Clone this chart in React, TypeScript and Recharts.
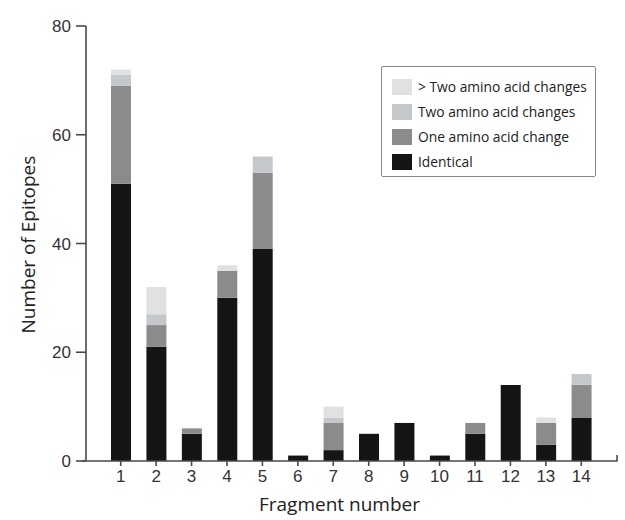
import React from 'react'
import { BarChart, Bar, XAxis, YAxis, ReferenceLine } from 'recharts'

const fragments = ['1', '2', '3', '4', '5', '6', '7', '8', '9', '10', '11', '12', '13', '14']
const identical = [51, 21, 5, 30, 39, 1, 2, 5, 7, 1, 5, 14, 3, 8]
const oneChange = [18, 4, 1, 5, 14, 0, 5, 0, 0, 0, 2, 0, 4, 6]
const twoChanges = [2, 2, 0, 0, 3, 0, 1, 0, 0, 0, 0, 0, 0, 2]
const moreChanges = [1, 5, 0, 1, 0, 0, 2, 0, 0, 0, 0, 0, 1, 0]
const majorTicks = [0, 20, 40, 60, 80]
const minorTicks = [0, 4, 8, 12, 16, 20, 24, 28, 32, 36, 40, 44, 48, 52, 56, 60, 64, 68, 72, 76, 80]

const SERIES = [
  { key: 'identical', name: 'Identical', color: '#151515' },
  { key: 'one', name: 'One amino acid change', color: '#8b8b8d' },
  { key: 'two', name: 'Two amino acid changes', color: '#c5c8cb' },
  { key: 'more', name: '> Two amino acid changes', color: '#e0e1e3' },
]

const data = fragments.map((f, i) => ({
  fragment: f,
  identical: identical[i],
  one: oneChange[i],
  two: twoChanges[i],
  more: moreChanges[i],
}))

const AXIS = '#4a4a4a'
const TICK_FONT = '"Liberation Sans", Arial, sans-serif'
const TITLE_FONT = '"Open Sans", sans-serif'

const NoTick = () => null

function XAxisLine(props: any) {
  const { x1, x2, y1 } = props
  if (x1 == null || x2 == null || y1 == null) return null
  const l = Math.min(x1, x2)
  const r = Math.max(x1, x2)
  return <path d={`M${l - 4},${y1} H${r} V${y1 - 6}`} fill="none" stroke={AXIS} strokeWidth={1.6} />
}

function LegendBox() {
  const items = [...SERIES].reverse()
  return (
    <div
      style={{
        position: 'absolute',
        left: 381,
        top: 66,
        width: 203,
        height: 102,
        border: '1.5px solid #888',
        borderRadius: 2,
        padding: '7px 0 0 10px',
        background: '#fff',
        fontFamily: TITLE_FONT,
        fontSize: 13.8,
        color: '#222',
      }}
    >
      {items.map((it) => (
        <div key={it.key} style={{ display: 'flex', alignItems: 'center', height: 25, whiteSpace: 'nowrap' }}>
          <span style={{ width: 20, height: 16, background: it.color, display: 'inline-block', marginRight: 6, flex: 'none' }} />
          <span>{it.name}</span>
        </div>
      ))}
    </div>
  )
}

export default function App() {
  return (
    <div style={{ position: 'absolute', left: 0, top: 0, width: 625, height: 520, background: '#fff' }}>
      <BarChart width={625} height={520} data={data} margin={{ top: 26, right: 8, bottom: 0, left: 0 }}>
        <XAxis
          dataKey="fragment"
          height={59}
          axisLine={false}
          tickLine={{ stroke: AXIS, strokeWidth: 1.6 }}
          tickSize={5}
          padding={{ left: 17, right: 18 }}
          interval={0}
          tick={{ fill: '#333', fontSize: 17, fontFamily: TICK_FONT }}
          tickMargin={4}
          label={{
            value: 'Fragment number',
            position: 'insideBottom',
            offset: 9,
            dx: -12,
            fill: '#222',
            fontSize: 19,
            fontFamily: TITLE_FONT,
          }}
        />
        {/* minor ticks only, zero width so it sits on the main axis */}
        <YAxis
          yAxisId="minor"
          width={0}
          domain={[0, 80]}
          ticks={minorTicks}
          interval={0}
          tickSize={6}
          axisLine={false}
          tickLine={{ stroke: AXIS, strokeWidth: 1.6 }}
          tick={<NoTick />}
        />
        <YAxis
          yAxisId="main"
          width={86}
          domain={[0, 80]}
          ticks={majorTicks}
          interval={0}
          tickSize={10}
          tickMargin={5}
          tickLine={{ stroke: AXIS, strokeWidth: 1.6 }}
          axisLine={{ stroke: AXIS, strokeWidth: 1.6 }}
          tick={{ fill: '#333', fontSize: 17, fontFamily: TICK_FONT }}
          label={{
            value: 'Number of Epitopes',
            angle: -90,
            position: 'insideLeft',
            offset: 28,
            dy: 90,
            fill: '#222',
            fontSize: 19,
            fontFamily: TITLE_FONT,
          }}
        />
        <ReferenceLine yAxisId="main" y={0} ifOverflow="visible" shape={<XAxisLine />} />
        {SERIES.map((s) => (
          <Bar
            key={s.key}
            yAxisId="main"
            dataKey={s.key}
            name={s.name}
            stackId="a"
            fill={s.color}
            barSize={20}
            isAnimationActive={false}
          />
        ))}
      </BarChart>
      <LegendBox />
    </div>
  )
}
